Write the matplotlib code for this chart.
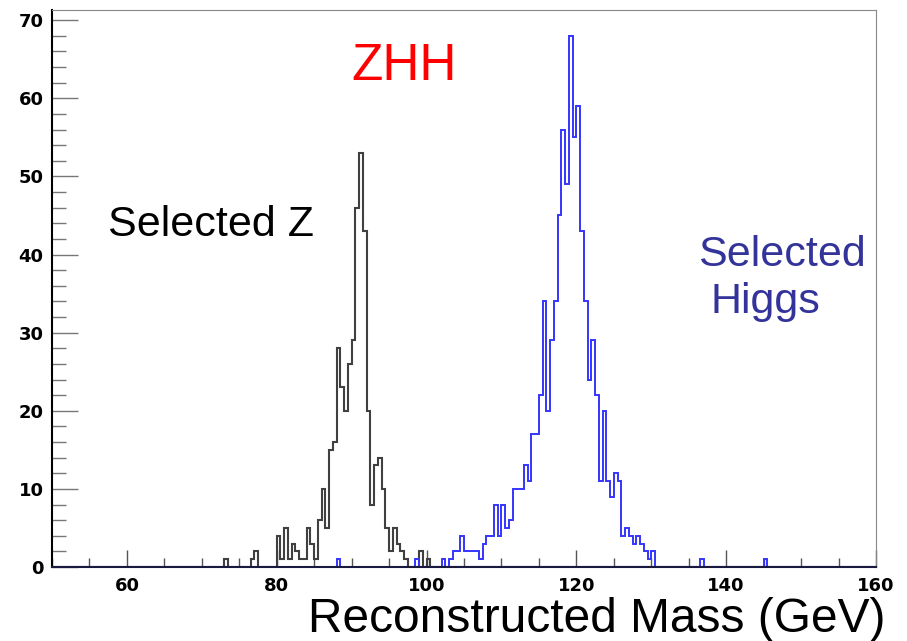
import numpy as np
import matplotlib
matplotlib.use('Agg')
import matplotlib.pyplot as plt
from matplotlib.ticker import MultipleLocator

# bin low edges (GeV) and counts, 0.5 GeV bins
z_mass = [73.0, 76.5, 77.0, 80.0, 80.5, 81.0, 81.5, 82.0, 82.5, 83.0, 83.5, 84.0,
          84.5, 85.0, 85.5, 86.0, 86.5, 87.0, 87.5, 88.0, 88.5, 89.0, 89.5, 90.0,
          90.5, 91.0, 91.5, 92.0, 92.5, 93.0, 93.5, 94.0, 94.5, 95.0, 95.5, 96.0,
          96.5, 97.0, 99.0, 100.0]
z_counts = [1, 1, 2, 4, 1, 5, 1, 3, 2, 1, 1, 5,
            3, 1, 6, 10, 5, 15, 16, 28, 23, 20, 26, 29,
            46, 53, 43, 20, 8, 13, 14, 10, 5, 2, 5, 3,
            2, 1, 2, 1]

h_mass = [88.0, 98.5, 102.0, 103.0, 103.5, 104.0, 104.5, 105.0, 105.5, 106.0,
          106.5, 107.0, 107.5, 108.0, 108.5, 109.0, 109.5, 110.0, 110.5, 111.0,
          111.5, 112.0, 112.5, 113.0, 113.5, 114.0, 114.5, 115.0, 115.5, 116.0,
          116.5, 117.0, 117.5, 118.0, 118.5, 119.0, 119.5, 120.0, 120.5, 121.0,
          121.5, 122.0, 122.5, 123.0, 123.5, 124.0, 124.5, 125.0, 125.5, 126.0,
          126.5, 127.0, 127.5, 128.0, 128.5, 129.0, 129.5, 130.0, 136.5, 145.0]
h_counts = [1, 1, 1, 1, 2, 2, 4, 2, 2, 2,
            2, 1, 3, 4, 4, 8, 4, 8, 5, 6,
            10, 10, 10, 13, 11, 17, 17, 22, 34, 20,
            29, 34, 45, 56, 49, 68, 55, 59, 43, 34,
            24, 29, 22, 11, 20, 11, 9, 12, 11, 4,
            5, 4, 3, 4, 3, 2, 1, 2, 1, 1]

x_ticks = [60, 80, 100, 120, 140, 160]
y_ticks = [0, 10, 20, 30, 40, 50, 60, 70]

W, H = 907, 641
fig = plt.figure(figsize=(W / 100, H / 100), dpi=100)
ax = fig.add_axes([52 / W, 1 - 567 / H, (876 - 52) / W, (567 - 10) / H])

edges = np.arange(50.0, 160.25, 0.5)
# put points at bin centres so they land in the right bin
ax.hist(np.array(z_mass) + 0.25, bins=edges, weights=z_counts, histtype='step',
        color='#404040', lw=1.5)
ax.hist(np.array(h_mass) + 0.25, bins=edges, weights=h_counts, histtype='step',
        color='#3535ff', lw=1.4)

ax.set_xlim(50, 160)
ax.set_ylim(0, 71.3)
ax.set_xticks(x_ticks)
ax.set_yticks(y_ticks)
ax.xaxis.set_minor_locator(MultipleLocator(5))
ax.yaxis.set_minor_locator(MultipleLocator(2))
ax.tick_params(axis='x', which='major', direction='in', length=12, width=1,
               color='#555555', pad=7, labelsize=13)
ax.tick_params(axis='x', which='minor', direction='in', length=6.5, width=1,
               color='#555555')
ax.tick_params(axis='y', which='major', direction='in', length=19, width=1,
               color='#777777', pad=6, labelsize=13)
ax.tick_params(axis='y', which='minor', direction='in', length=10, width=1,
               color='#777777')
for lab in ax.get_xticklabels() + ax.get_yticklabels():
    lab.set_fontweight('bold')
    lab.set_family('DejaVu Sans')

ax.spines['left'].set_linewidth(1.5)
ax.spines['bottom'].set_linewidth(1.5)
ax.spines['bottom'].set_color('#1a1a40')
ax.spines['top'].set_color('#888888')
ax.spines['right'].set_color('#888888')
ax.spines['top'].set_linewidth(0.8)
ax.spines['right'].set_linewidth(0.8)

font = 'Liberation Sans'
fig.text(404 / W, 1 - 80 / H, 'ZHH', color='red', fontsize=37, family=font,
         ha='center', va='baseline')
fig.text(108 / W, 1 - 236 / H, 'Selected Z', color='black', fontsize=31,
         family=font, ha='left', va='baseline')
fig.text(698 / W, 1 - 266 / H, 'Selected', color='#33339a', fontsize=31,
         family=font, ha='left', va='baseline')
fig.text(710 / W, 1 - 313 / H, 'Higgs', color='#33339a', fontsize=31,
         family=font, ha='left', va='baseline')
fig.text(885 / W, 1 - 632 / H, 'Reconstructed Mass (GeV)', color='black',
         fontsize=34.5, family=font, ha='right', va='baseline')

fig.savefig('out.png', dpi=100)
